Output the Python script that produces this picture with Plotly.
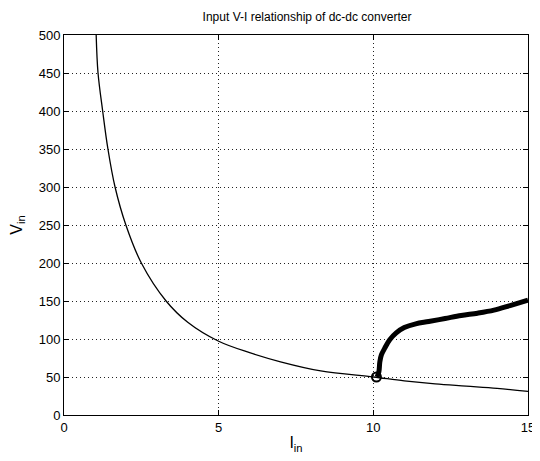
import plotly.graph_objects as go

# Thin curve: input V-I characteristic (constant-power like)
i_thin = [1.04, 1.1, 1.25, 1.42, 1.65, 2.0, 2.5, 3.3, 4.0, 5.0, 6.0, 7.0, 8.3, 10.0, 11.0, 12.0, 13.0, 14.0, 15.0]
v_thin = [500, 450, 400, 350, 300, 250, 200, 150, 122, 97, 82, 70, 58, 50, 45, 41, 38, 35, 31]

# Thick curve: operating trajectory
i_thick = [10.12, 10.18, 10.21, 10.26, 10.37, 10.53, 10.74, 11.0, 11.37, 11.79, 12.32, 12.84, 13.37, 13.9, 14.42, 15.0]
v_thick = [50, 57, 70, 79, 88, 99, 108, 115, 120, 123, 127, 131, 134, 138, 144, 151]

# Start marker
i_mark = [10.1]
v_mark = [50]

x_ticks = [0, 5, 10, 15]
y_ticks = [0, 50, 100, 150, 200, 250, 300, 350, 400, 450, 500]

fig = go.Figure()
fig.add_trace(go.Scatter(x=i_thin, y=v_thin, mode="lines", line=dict(color="black", width=1.3, shape="spline"), showlegend=False))
fig.add_trace(go.Scatter(x=i_thick, y=v_thick, mode="lines", line=dict(color="black", width=5, shape="spline"), showlegend=False))
fig.add_trace(go.Scatter(x=i_mark, y=v_mark, mode="markers",
                         marker=dict(symbol="circle-open", size=9, color="black", line=dict(width=2)), showlegend=False))

font = dict(family="Liberation Sans, Arial, sans-serif", size=13, color="black")

# page body adds an 8px offset; figure sized to fit the 540x461 window
fig.update_layout(
    width=532, height=453,
    margin=dict(l=56, r=12, t=27, b=46),
    paper_bgcolor="white", plot_bgcolor="white",
    font=font,
    title=dict(text="Input V-I relationship of dc-dc converter", x=299/532, xanchor="center",
               y=1 - 9/453, yanchor="middle", font=dict(size=12)),
)
fig.update_xaxes(range=[0, 15], tickvals=x_ticks, ticks="inside", ticklen=5, tickcolor="black",
                 showline=True, linecolor="black", linewidth=1, mirror="ticks", automargin=False,
                 showgrid=True, gridcolor="#222", griddash="1px,3px", gridwidth=1, zeroline=False,
                 title=dict(text="I<sub>in</sub>", standoff=3))
fig.update_yaxes(range=[0, 500], tickvals=y_ticks, ticks="inside", ticklen=5, tickcolor="black",
                 showline=True, linecolor="black", linewidth=1, mirror="ticks", automargin=False,
                 showgrid=True, gridcolor="#222", griddash="1px,3px", gridwidth=1, zeroline=False,
                 title=dict(text="V<sub>in</sub>", standoff=12))

fig.write_html("out.html")
